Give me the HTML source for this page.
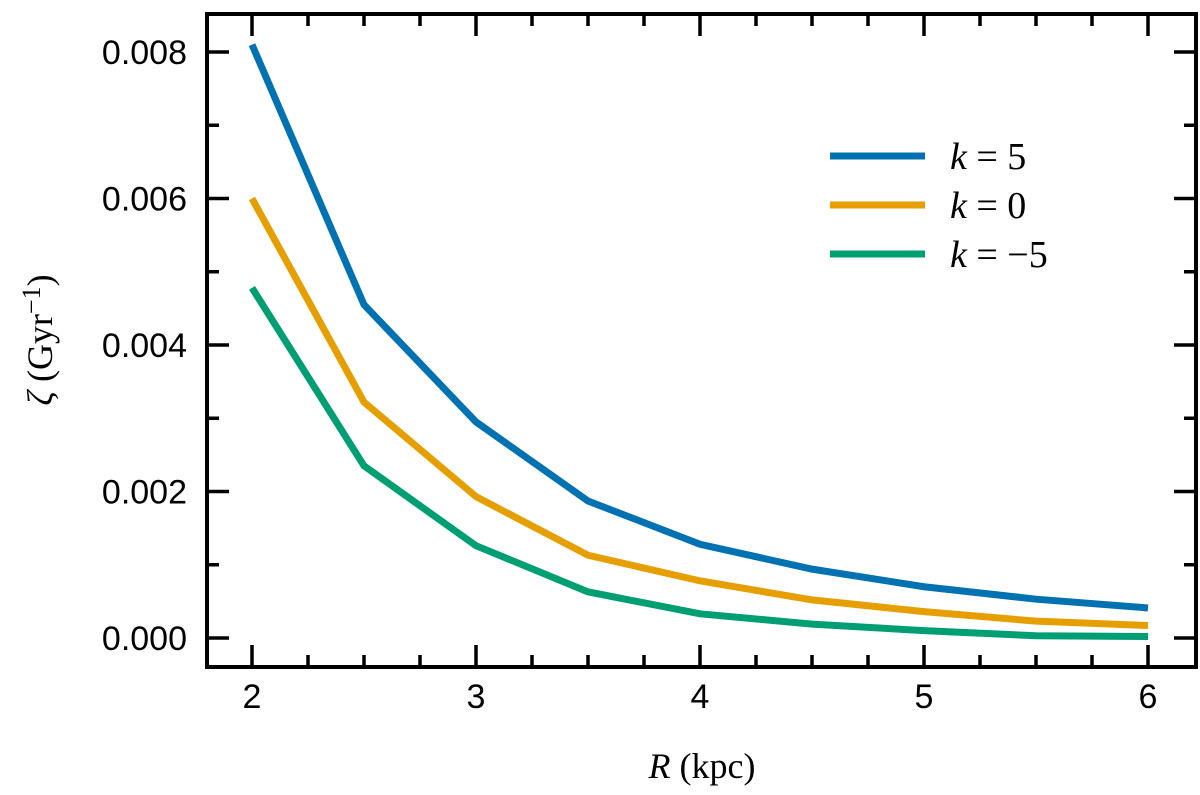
<!DOCTYPE html>
<html><head><meta charset="utf-8"><style>
html,body{margin:0;padding:0;background:#fff;}
svg{display:block;}
text{font-family:"Liberation Sans",sans-serif;}
</style></head><body>
<svg id="chart" width="1200" height="795"></svg>
<script>
const xs=[2,2.5,3,3.5,4,4.5,5,5.5,6];
const k5=[0.0081,0.00455,0.00295,0.00187,0.00128,0.00094,0.0007,0.00053,0.00041];
const k0=[0.006,0.00322,0.00193,0.00113,0.00078,0.00052,0.00036,0.00023,0.00017];
const km5=[0.00478,0.00235,0.00126,0.00063,0.00033,0.00019,0.0001,0.00003,0.00002];
const xTicks=[2,3,4,5,6];
const yTicks=[0,0.002,0.004,0.006,0.008];
const yTickLabels=["0.000","0.002","0.004","0.006","0.008"];
const seriesNames=["k5","k0","km5"];
const NS="http://www.w3.org/2000/svg";
const svg=document.getElementById('chart');
const L=207,R=1196,T=14,B=667;
const X=v=>252+(v-2)*224;
const Y=v=>638-v*73250;
function mk(tag,attrs,parent){const e=document.createElementNS(NS,tag);for(const k in attrs)e.setAttribute(k,attrs[k]);(parent||svg).appendChild(e);return e;}
const ax=mk('g',{});


for(let v=1.75;v<=6.26;v+=0.25){const major=Math.abs(v-Math.round(v))<1e-6;const len=major?22:12;
 if(X(v)<L||X(v)>R)continue;
 mk('line',{x1:X(v),x2:X(v),y1:B,y2:B-len,stroke:'#000','stroke-width':3.5},ax);
 mk('line',{x1:X(v),x2:X(v),y1:T,y2:T+len,stroke:'#000','stroke-width':3.5},ax);}
for(let i=0;i<=8;i++){const v=i*0.001;const major=i%2==0;const len=major?22:12;
 mk('line',{x1:L,x2:L+len,y1:Y(v),y2:Y(v),stroke:'#000','stroke-width':3.5},ax);
 mk('line',{x1:R,x2:R-len,y1:Y(v),y2:Y(v),stroke:'#000','stroke-width':3.5},ax);}
xTicks.forEach(v=>{const t=mk('text',{x:X(v),y:708,'font-size':34,'text-anchor':'middle'},ax);t.textContent=v;
 });
yTicks.forEach((v,i)=>{const t=mk('text',{x:187,y:Y(v)+12,'font-size':34,'text-anchor':'end'},ax);t.textContent=yTickLabels[i];
 });
const colors=['#0072b2','#e69f00','#009e73'];
[k5,k0,km5].forEach((s,j)=>{const p=mk('polyline',{points:s.map((v,i)=>X(xs[i])+','+Y(v)).join(' '),fill:'none',stroke:colors[j],'stroke-width':7});
 });
mk('rect',{x:L,y:T,width:R-L,height:B-T,fill:'none',stroke:'#000','stroke-width':4},ax);
const labels=["= 5","= 0","= \u22125"];
const lg=mk('g',{});


labels.forEach((l,j)=>{const y=156+j*49;
 mk('line',{x1:830,x2:925,y1:y,y2:y,stroke:colors[j],'stroke-width':7},lg);
 const t=mk('text',{x:950,y:y+13,'font-size':38,style:'font-family:"Liberation Serif",serif'},lg);
 t.innerHTML='<tspan font-style="italic">k</tspan> '+l;
 });
const xt=mk('text',{x:702,y:778,'font-size':36,'text-anchor':'middle',style:'font-family:"Liberation Serif",serif'});
xt.innerHTML='<tspan font-style="italic">R</tspan> (kpc)';

const yt=mk('text',{x:0,y:0,'font-size':36,'text-anchor':'middle',transform:'translate(52,340) rotate(-90)',style:'font-family:"Liberation Serif",serif'});
yt.innerHTML='<tspan font-style="italic">ζ</tspan> (Gyr<tspan dy="-12" font-size="26">−1</tspan><tspan dy="12">)</tspan>';

</script>
</body></html>
